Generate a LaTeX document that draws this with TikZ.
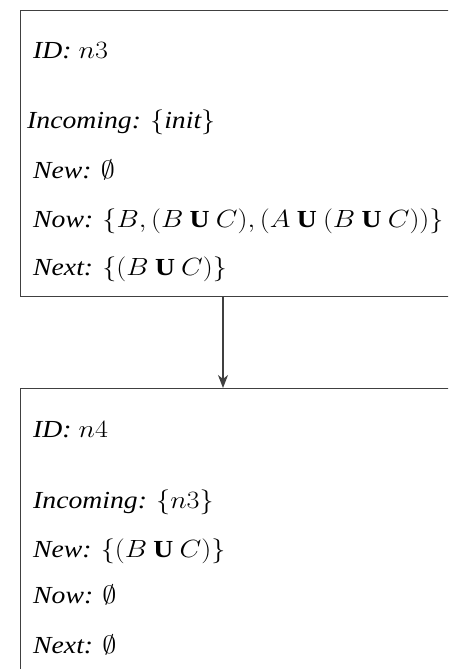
\documentclass[tikz,border=0pt]{standalone}
\usepackage{fontspec}
\setmainfont{Liberation Serif}[ItalicFont={Liberation Serif Italic}]
\usetikzlibrary{arrows.meta}
\tikzset{
  statebox/.style={draw=black!75, line width=1.2pt, rectangle, anchor=north west, minimum width=440pt, inner sep=0pt},
  lbl/.style={anchor=base west, inner sep=0pt, font=\fontsize{24.5}{29}\selectfont, xscale=1.13, transform shape},
  arr/.style={draw=black!75, line width=1.2pt, -{Stealth[length=13pt,width=10pt,inset=4pt]}}
}
\newcommand{\UU}{\mathbin{\mathbf{U}}}
\begin{document}
\begin{tikzpicture}[x=1pt,y=-1pt]
\useasboundingbox (0,0) rectangle (448,669);
\fill[white] (0,0) rectangle (448,669);
\begin{scope}
\clip (0,0) rectangle (448,669);
\node[statebox, minimum height=286pt] (top) at (20,10) {};
\node[statebox, minimum height=300pt] (bot) at (20,388) {};
\end{scope}
\node[lbl] (id3) at (33,59) {\textit{ID:} $n3$};
\node[lbl] (in3) at (27,128) {\textit{Incoming:} $\{\mathit{init}\}$};
\node[lbl] (ne3) at (33,178) {\textit{New:} $\emptyset$};
\node[lbl] (no3) at (33,227) {\textit{Now:} $\{B, (B \UU C), (A \UU (B \UU C))\}$};
\node[lbl] (nx3) at (33,275) {\textit{Next:} $\{(B \UU C)\}$};
\node[lbl] (id4) at (33,437) {\textit{ID:} $n4$};
\node[lbl] (in4) at (33,508) {\textit{Incoming:} $\{n3\}$};
\node[lbl] (ne4) at (33,557) {\textit{New:} $\{(B \UU C)\}$};
\node[lbl] (no4) at (33,603) {\textit{Now:} $\emptyset$};
\node[lbl] (nx4) at (33,653) {\textit{Next:} $\emptyset$};
\draw[arr] ([xshift=203pt]top.south west) -- ([xshift=203pt]bot.north west);
\end{tikzpicture}
\end{document}
